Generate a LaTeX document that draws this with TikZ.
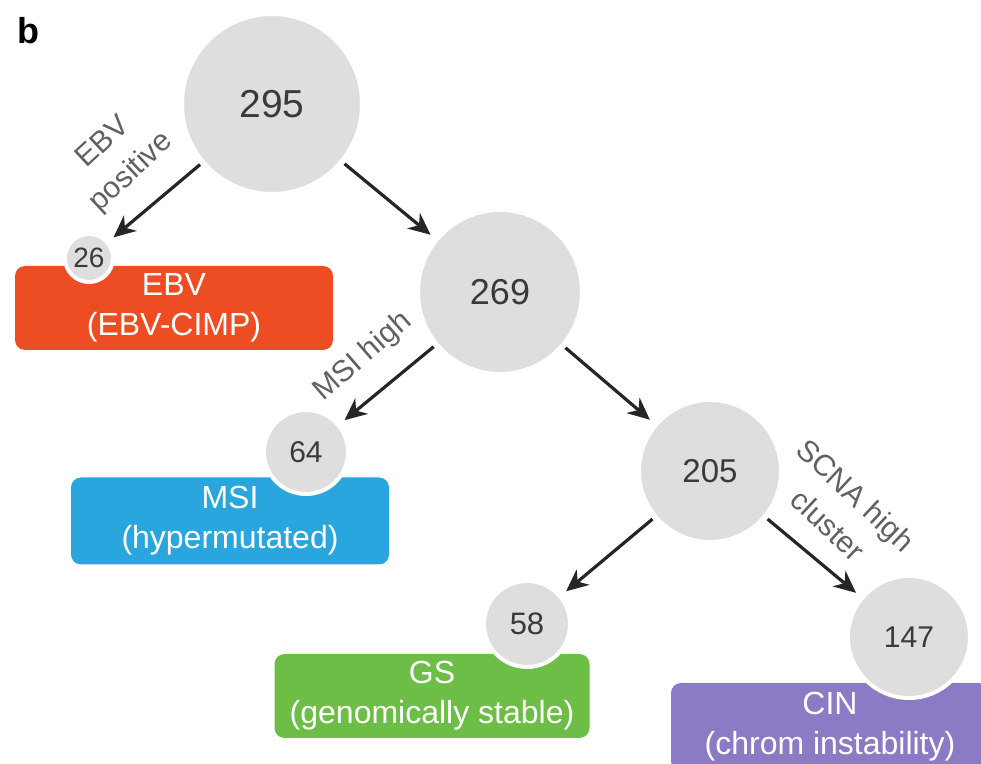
\documentclass[tikz,border=0pt]{standalone}
\usepackage{fontspec}
\setmainfont{Liberation Sans}
\usetikzlibrary{arrows.meta}
\definecolor{ebvred}{RGB}{238,77,36}
\definecolor{msiblue}{RGB}{42,166,222}
\definecolor{gsgreen}{RGB}{108,190,70}
\definecolor{cinpurple}{RGB}{140,122,196}
\definecolor{nodegray}{RGB}{222,222,222}
\definecolor{numgray}{RGB}{58,58,58}

\begin{document}
\begin{tikzpicture}[x=0.5pt,y=-0.5pt,
  count/.style={circle,fill=nodegray,draw=white,line width=2pt,inner sep=0pt,text=numgray},
  subtype/.style={rounded corners=5pt,inner sep=0pt,text=white,align=center,
    minimum width=159pt,minimum height=42pt,font=\fontsize{16}{20}\selectfont},
  split/.style={-{Stealth[length=11pt,width=10pt,inset=3.5pt]},line width=1.6pt,
    draw=black!85,shorten <=1pt,shorten >=3pt},
  rule/.style={text=black!62,align=center,font=\fontsize{15}{20.5}\selectfont}]
  \useasboundingbox (0,0) rectangle (981,764);
  \node[font=\fontsize{18}{18}\selectfont\bfseries] (panel) at (28,31) {b};
  % subtype boxes
  \node[subtype,fill=ebvred] (ebv) at (174,308) {EBV\\(EBV-CIMP)};
  \node[subtype,fill=msiblue,minimum height=43.5pt] (msi) at (230,521) {MSI\\(hypermutated)};
  \node[subtype,fill=gsgreen,minimum width=157.5pt] (gs) at (432,696) {GS\\(genomically stable)};
  \node[subtype,fill=cinpurple,minimum height=44pt] (cin) at (830,727) {CIN\\(chrom instability)};
  % sample counts
  \node[count,minimum size=90pt,font=\fontsize{19.5}{20}\selectfont] (n295) at (272,104) {295};
  \node[count,minimum size=24pt,font=\fontsize{14}{14}\selectfont] (n26) at (89,258) {26};
  \node[count,minimum size=82pt,font=\fontsize{18}{18}\selectfont] (n269) at (500,292) {269};
  \node[count,minimum size=42pt,font=\fontsize{15}{15}\selectfont] (n64) at (306,452) {64};
  \node[count,minimum size=71pt,font=\fontsize{16.5}{17}\selectfont] (n205) at (710,471) {205};
  \node[count,minimum size=43pt,font=\fontsize{15.5}{16}\selectfont] (n58) at (527,624) {58};
  \node[count,minimum size=61pt,font=\fontsize{15}{15}\selectfont] (n147) at (909,637) {147};
  % splits
  \draw[split] (n295) -- (n26);
  \draw[split] (n295) -- (n269);
  \draw[split] (n269) -- (n64);
  \draw[split] (n269) -- (n205);
  \draw[split] (n205) -- (n58);
  \draw[split] (n205) -- (n147);
  \node[rule,rotate=43] (ebvpos) at (118,158) {EBV\\positive};
  \node[rule,rotate=41] (msihigh) at (363,357) {MSI high};
  \node[rule,rotate=-43] (scnahigh) at (842,510) {SCNA high\\cluster};
\end{tikzpicture}
\end{document}
